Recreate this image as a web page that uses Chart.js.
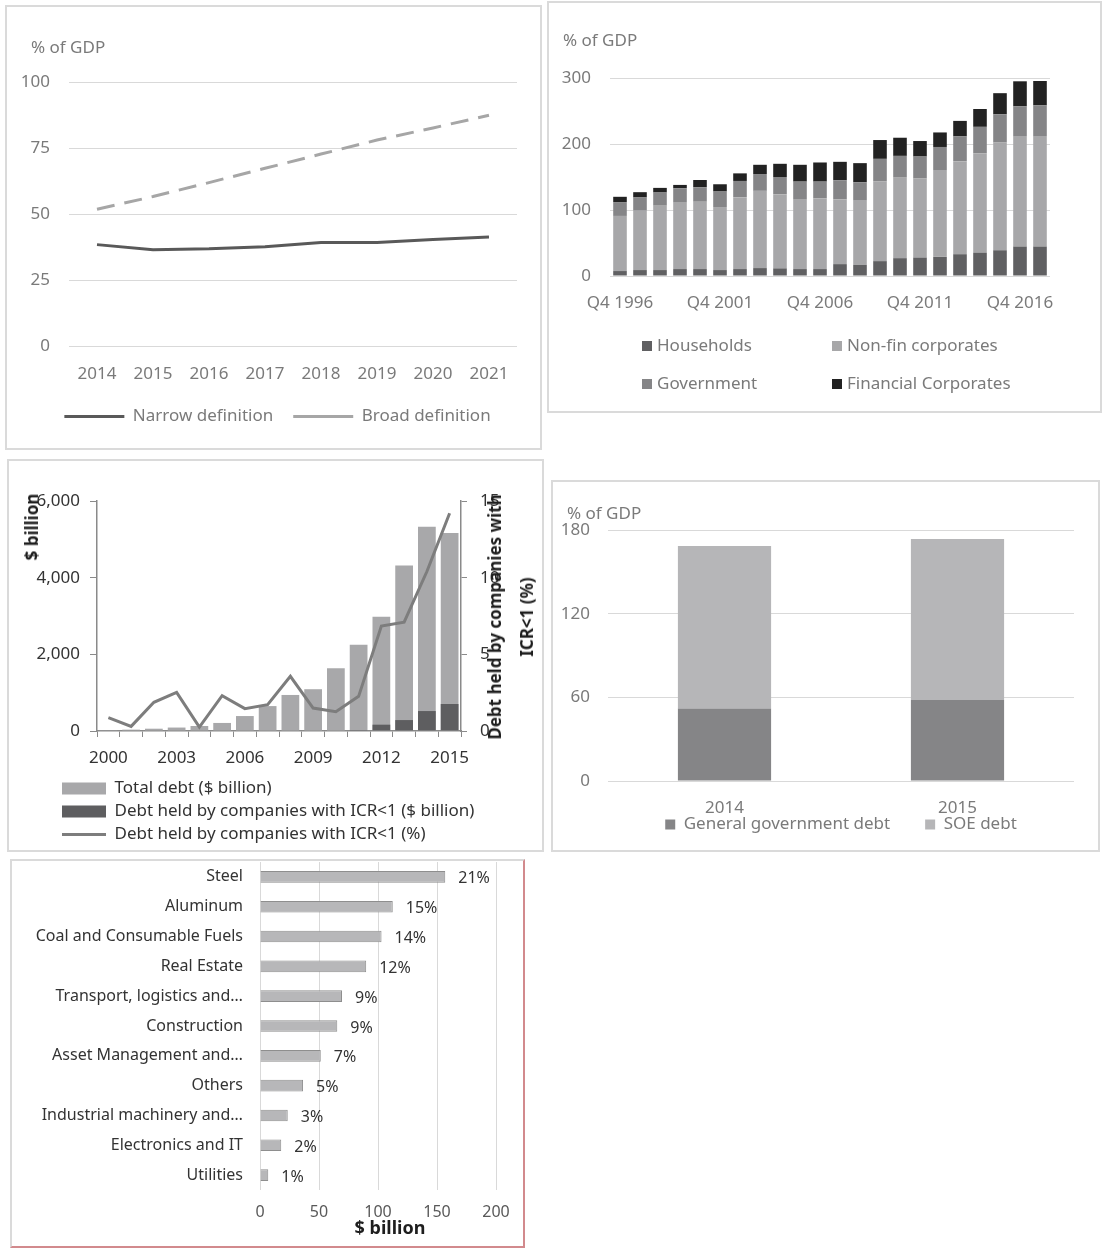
<!DOCTYPE html>
<html>
<head>
<meta charset="utf-8">
<title>China debt charts</title>
<script src="https://cdn.jsdelivr.net/npm/chart.js@4.4.1/dist/chart.umd.min.js"></script>
<style>
  body { margin: 0; width: 1105px; height: 1248px; position: relative; background: #fff; overflow: hidden;
         font-family: 'Noto Sans', sans-serif; }
  .panel { position: absolute; box-sizing: border-box; border: 2px solid #dadada; background: #fff; }
  .panel canvas { position: absolute; left: 0; top: 0; }
  .txt { position: absolute; white-space: nowrap; font-size: 17px; line-height: 17px; color: #7a7a7a; }
  .rot { position: absolute; white-space: nowrap; font-weight: bold; color: #1e1e1e; text-align: center;
         transform: translate(-50%, -50%) rotate(-90deg); }
  .key { position: absolute; width: 10px; height: 10px; }
</style>
</head>
<body>
<div class="panel" style="left:5px;top:5px;width:537px;height:445px"><canvas id="c1" width="533" height="441"></canvas></div>
<div class="panel" style="left:547px;top:1px;width:555px;height:412px"><canvas id="c2" width="551" height="408"></canvas></div>
<div class="panel" style="left:7px;top:459px;width:537px;height:393px"><canvas id="c3" width="533" height="389"></canvas></div>
<div class="panel" style="left:551px;top:480px;width:549px;height:372px"><canvas id="c4" width="545" height="368"></canvas></div>
<div class="panel" style="left:10px;top:859px;width:515px;height:389px;border-right-color:#d28a8d;border-bottom-color:#d28a8d"><canvas id="c5" width="511" height="385"></canvas></div>

<div class="txt" style="left:31px;top:38px">% of GDP</div>
<div class="txt" style="left:563px;top:31px">% of GDP</div>
<div class="txt" style="left:567px;top:504px">% of GDP</div>
<div class="rot" style="left:32px;top:527px;font-size:17px;line-height:20px">$ billion</div>
<div class="rot" style="left:511px;top:617px;font-size:17px;line-height:32px">Debt held by companies with<br>ICR&lt;1 (%)</div>
<div class="txt" style="left:390px;top:1227px;transform:translate(-50%,-50%);font-weight:bold;font-size:18px;line-height:20px;color:#1e1e1e">$ billion</div>
<div id="legend2"></div>

<script>
// panel 1: debt under two definitions, % of GDP
const years1 = ['2014', '2015', '2016', '2017', '2018', '2019', '2020', '2021'];
const narrowDebt = [38.4, 36.5, 36.8, 37.6, 39.2, 39.2, 40.3, 41.3];
const broadDebt = [51.8, 56.6, 61.9, 67.3, 72.7, 78.0, 82.6, 87.4];

// panel 2: debt by sector, % of GDP
const quarters = ['Q4 1996', 'Q4 1997', 'Q4 1998', 'Q4 1999', 'Q4 2000', 'Q4 2001', 'Q4 2002', 'Q4 2003',
  'Q4 2004', 'Q4 2005', 'Q4 2006', 'Q4 2007', 'Q4 2008', 'Q4 2009', 'Q4 2010', 'Q4 2011', 'Q4 2012',
  'Q4 2013', 'Q4 2014', 'Q4 2015', 'Q4 2016', 'Q1 2017'];
const households = [7.5, 9, 9, 10.5, 10.5, 9, 10.5, 12, 11.5, 10.5, 10.5, 18, 17, 22.5, 27, 28, 29, 33, 35, 39, 44.5, 44.5];
const nonFinCorp = [83.5, 90, 97.5, 101.5, 102, 95.5, 109, 117, 112.5, 106, 107, 98, 98, 121, 122, 120, 131.5, 141, 151, 163.5, 167.5, 167.5];
const government = [21, 20, 20, 21, 22, 23.5, 24.5, 25.5, 26, 26.5, 25.5, 29, 27, 34, 33, 33, 35, 37.5, 40, 42.5, 45, 46.5];
const financialCorp = [8, 8, 7, 5, 11, 11, 11.5, 14, 20, 25.5, 29, 28, 29, 28.5, 27.5, 23.5, 22, 23.5, 27, 32, 38, 37];

// panel 3: corporate debt and ICR<1
const years3 = ['2000', '2001', '2002', '2003', '2004', '2005', '2006', '2007', '2008', '2009', '2010', '2011', '2012', '2013', '2014', '2015'];
const totalDebt = [20, 35, 60, 90, 130, 210, 390, 650, 940, 1090, 1635, 2250, 2980, 4315, 5330, 5165];
const icrDebt = [0, 0, 0, 0, 0, 0, 0, 0, 0, 0, 0, 25, 165, 285, 520, 705];
const icrShare = [0.87, 0.3, 1.87, 2.52, 0.26, 2.3, 1.46, 1.72, 3.57, 1.5, 1.26, 2.26, 6.85, 7.1, 10.4, 14.2];

// panel 4: government + SOE debt
const years4 = ['2014', '2015'];
const govDebt = [52, 58];
const soeDebt = [116.5, 115.5];

// panel 5: debt by sector, $ billion
const sectors = ['Steel', 'Aluminum', 'Coal and Consumable Fuels', 'Real Estate', 'Transport, logistics and\u2026',
  'Construction', 'Asset Management and\u2026', 'Others', 'Industrial machinery and\u2026', 'Electronics and IT', 'Utilities'];
const sectorDebt = [157, 112.5, 103, 90, 69.5, 65.5, 51.5, 36.5, 23.5, 18, 7];
const sectorShare = ['21%', '15%', '14%', '12%', '9%', '9%', '7%', '5%', '3%', '2%', '1%'];

const grey = '#7a7a7a';
const dark = '#333333';
const axisGrey = '#8a8a8a';
const gridGrey = '#d9d9d9';

Chart.defaults.font.family = "'Noto Sans', sans-serif";
Chart.defaults.font.size = 17;
Chart.defaults.animation = false;
Chart.defaults.responsive = false;
Chart.defaults.devicePixelRatio = 1;
Chart.defaults.plugins.tooltip.enabled = false;

// tick labels get clipped to the axis box; let them spill over like in the original
Chart.register({
  id: 'noLabelClip',
  afterLayout(chart) {
    Object.values(chart.scales).forEach(s => {
      if (s.position === 'left') s.left = 0;
      if (s.position === 'right') s.right = chart.width;
      if (s.position === 'bottom') s.bottom = chart.height;
    });
  }
});

const fixWidth = w => scale => { scale.width = w; };   // keep axis width fixed
const fixHeight = h => scale => { scale.height = h; };

// --- panel 1
new Chart(document.getElementById('c1'), {
  type: 'line',
  data: {
    labels: years1,
    datasets: [
      { label: 'Narrow definition', data: narrowDebt, borderColor: '#595959', backgroundColor: '#595959', borderWidth: 3, pointRadius: 0 },
      { label: 'Broad definition', data: broadDebt, borderColor: '#a6a6a6', backgroundColor: '#a6a6a6', borderWidth: 3, borderDash: [18, 10], pointRadius: 0 }
    ]
  },
  options: {
    layout: { padding: { left: 31, right: 23, top: 75, bottom: 13 } },
    scales: {
      x: { offset: true, grid: { display: false, drawTicks: false }, border: { display: false },
           ticks: { color: grey, padding: 18, maxRotation: 0 }, afterFit: fixHeight(42) },
      y: { min: 0, max: 100, ticks: { stepSize: 25, color: grey, padding: 19 },
           grid: { color: gridGrey, drawTicks: false }, border: { display: false }, afterFit: fixWidth(31) }
    },
    plugins: {
      legend: { position: 'bottom',
        labels: { usePointStyle: true, pointStyle: 'line', pointStyleWidth: 60, color: grey, padding: 20 } }
    }
  }
});

// --- panel 2
const chart2 = new Chart(document.getElementById('c2'), {
  type: 'bar',
  data: {
    labels: quarters,
    datasets: [
      { label: 'Households', data: households, backgroundColor: '#606062' },
      { label: 'Non-fin corporates', data: nonFinCorp, backgroundColor: '#a7a7a9' },
      { label: 'Government', data: government, backgroundColor: '#858587' },
      { label: 'Financial Corporates', data: financialCorp, backgroundColor: '#222222' }
    ]
  },
  options: {
    datasets: { bar: { barPercentage: 0.68, categoryPercentage: 1 } },
    layout: { padding: { left: 11, right: 50, top: 75, bottom: 95 } },
    scales: {
      x: { stacked: true, grid: { display: false, drawTicks: false }, border: { display: false }, afterFit: fixHeight(40),
           ticks: { autoSkip: false, maxRotation: 0, padding: 17, color: grey,
                    callback: (v, i) => (i % 5 === 0 ? quarters[i] : '') } },
      y: { stacked: true, min: 0, max: 300, ticks: { stepSize: 100, color: grey, padding: 19 },
           grid: { color: gridGrey, drawTicks: false }, border: { display: false }, afterFit: fixWidth(50) }
    },
    plugins: { legend: { display: false } }
  }
});

// legend of panel 2 is laid out in two columns, so build it in html
const legendCols = [642, 832];
const legendRows = [346, 384];
Chart.defaults.plugins.legend.labels.generateLabels(chart2).forEach((item, i) => {
  const x = legendCols[i % 2], y = legendRows[Math.floor(i / 2)];
  const box = document.createElement('div');
  box.className = 'key';
  box.style.left = x + 'px';
  box.style.top = (y - 5) + 'px';
  box.style.background = item.fillStyle;
  const t = document.createElement('div');
  t.className = 'txt';
  t.style.left = (x + 15) + 'px';
  t.style.top = (y - 10) + 'px';
  t.textContent = item.text;
  document.getElementById('legend2').append(box, t);
});

// --- panel 3
new Chart(document.getElementById('c3'), {
  type: 'bar',
  data: {
    labels: years3,
    datasets: [
      { label: 'Total debt ($ billion)', data: totalDebt, backgroundColor: '#a8a8aa', grouped: false, order: 2,
        pointStyle: 'rect', barPercentage: 0.78, categoryPercentage: 1 },
      { label: 'Debt held by companies with ICR<1 ($ billion)', data: icrDebt, backgroundColor: '#5e5e60', grouped: false, order: 1,
        pointStyle: 'rect', barPercentage: 0.78, categoryPercentage: 1 },
      { type: 'line', label: 'Debt held by companies with ICR<1 (%)', data: icrShare, yAxisID: 'y1',
        borderColor: '#7d7d7d', backgroundColor: '#7d7d7d', borderWidth: 3, pointRadius: 0, pointStyle: 'line', order: 0 }
    ]
  },
  options: {
    layout: { padding: { left: 47, right: 41, top: 40, bottom: 0 } },
    scales: {
      x: { grid: { drawOnChartArea: false, color: axisGrey, tickLength: 6 }, border: { color: axisGrey, width: 1.5 },
           ticks: { autoSkip: false, maxRotation: 0, padding: 11, color: dark,
                    callback: (v, i) => (i % 3 === 0 ? years3[i] : '') },
           afterFit: fixHeight(43) },
      y: { min: 0, max: 6000, ticks: { stepSize: 2000, padding: 10, color: dark, callback: v => v.toLocaleString('en-US') },
           grid: { drawOnChartArea: false, color: axisGrey, tickLength: 7 }, border: { color: axisGrey, width: 1.5 },
           afterFit: fixWidth(41) },
      y1: { position: 'right', min: 0, max: 15, ticks: { stepSize: 5, padding: 13, color: dark },
            grid: { drawOnChartArea: false, color: axisGrey, tickLength: 6 }, border: { color: axisGrey, width: 1.5 },
            afterFit: fixWidth(40) }
    },
    plugins: {
      legend: { position: 'bottom', align: 'start', maxHeight: 76,
        labels: { usePointStyle: true, pointStyleWidth: 44, boxHeight: 12, padding: 6, color: dark,
                  sort: (a, b) => a.datasetIndex - b.datasetIndex } }
    }
  }
});

// --- panel 4
new Chart(document.getElementById('c4'), {
  type: 'bar',
  data: {
    labels: years4,
    datasets: [
      { label: 'General government debt', data: govDebt, backgroundColor: '#858587' },
      { label: 'SOE debt', data: soeDebt, backgroundColor: '#b6b6b8' }
    ]
  },
  options: {
    datasets: { bar: { barPercentage: 0.4, categoryPercentage: 1 } },
    layout: { padding: { left: 10, right: 24, top: 48, bottom: 9 } },
    scales: {
      x: { stacked: true, grid: { display: false, drawTicks: false }, border: { display: false },
           ticks: { color: grey, padding: 17 }, afterFit: fixHeight(0) },
      y: { stacked: true, min: 0, max: 180, ticks: { stepSize: 60, color: grey, padding: 18 },
           grid: { color: gridGrey, drawTicks: false }, border: { display: false }, afterFit: fixWidth(45) }
    },
    plugins: {
      legend: { position: 'bottom', fullSize: false, maxHeight: 60,
        labels: { boxWidth: 10, boxHeight: 10, padding: 35, color: grey } }
    }
  }
});

// --- panel 5
const shareLabels = {  // percent share written after each bar
  id: 'shareLabels',
  afterDatasetsDraw(chart) {
    const ctx = chart.ctx;
    ctx.save();
    ctx.font = "16px 'Noto Sans', sans-serif";
    ctx.fillStyle = dark;
    ctx.textBaseline = 'middle';
    chart.getDatasetMeta(0).data.forEach((bar, i) => {
      ctx.fillText(sectorShare[i], bar.x + 13, bar.y + 2);
    });
    ctx.restore();
  }
};

new Chart(document.getElementById('c5'), {
  type: 'bar',
  data: {
    labels: sectors,
    datasets: [{ label: '$ billion', data: sectorDebt, backgroundColor: '#b7b7b9', borderColor: '#8e8e8e', borderWidth: 1,
                 barPercentage: 0.39, categoryPercentage: 1 }]
  },
  options: {
    indexAxis: 'y',
    layout: { padding: { left: 0, right: 27, top: 1, bottom: 0 } },
    scales: {
      x: { min: 0, max: 200, ticks: { stepSize: 50, color: '#595959', padding: 13, font: { size: 16 } },
           grid: { color: gridGrey, drawTicks: false }, border: { display: false }, afterFit: fixHeight(56) },
      y: { grid: { display: false, drawTicks: false }, border: { display: false },
           ticks: { color: dark, padding: 17, autoSkip: false, font: { size: 16 } },
           afterFit: scale => { scale.width = 248; scale.paddingTop = 0; scale.paddingBottom = 0; } }
    },
    plugins: { legend: { display: false } }
  },
  plugins: [shareLabels]
});
</script>
</body>
</html>
